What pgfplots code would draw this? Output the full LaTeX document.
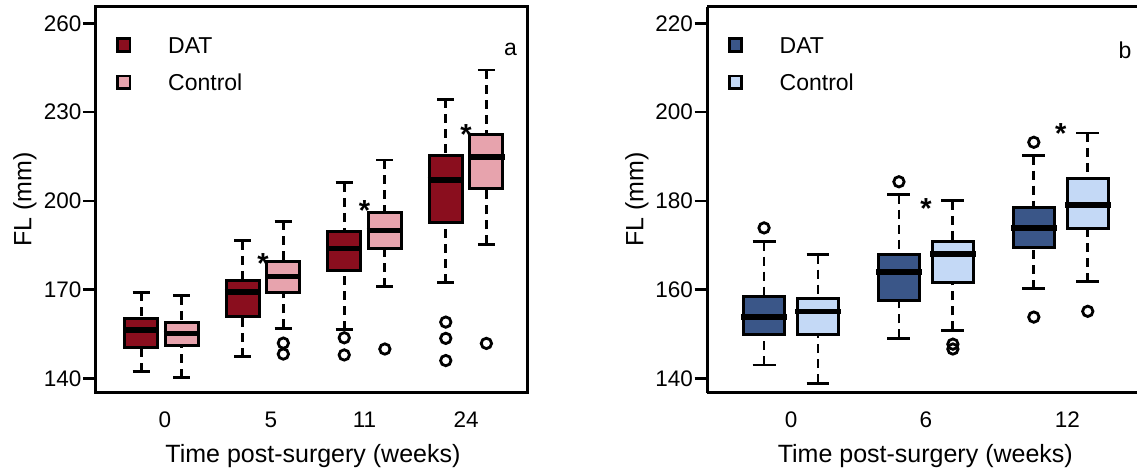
\documentclass[border=0pt]{standalone}
\usepackage{fontspec}
\setmainfont{Liberation Sans}
\usepackage{pgfplots}
\pgfplotsset{compat=1.18}
\usepgfplotslibrary{statistics}

\definecolor{datred}{HTML}{8A0E1E}
\definecolor{ctlpink}{HTML}{E7A3AD}
\definecolor{datblue}{HTML}{3A5688}
\definecolor{ctlblue}{HTML}{C4D9F6}

\tikzset{star/.style={font=\fontsize{29}{33}\selectfont\bfseries, yshift=-6.5pt, inner sep=0pt}}

\pgfplotsset{
  flaxis/.style={
    scale only axis,
    height=386pt,
    axis line style={line width=3pt},
    tick align=outside,
    ytick pos=left,
    major tick length=12.5pt,
    ytick style={line width=2.6pt, black},
    xtick style={draw=none},
    tick label style={font=\fontsize{22.5}{27}\selectfont},
    /pgf/number format/assume math mode=true,
    label style={font=\fontsize{25}{29}\selectfont},
    yticklabel style={xshift=2pt},
    xticklabel style={yshift=-3.4pt},
    ylabel={FL (mm)},
    xlabel={Time post-surgery (weeks)},
    clip=false,
    legend cell align=left,
    legend style={at={(axis description cs:0,1)}, anchor=north west,
      xshift=20.7pt, yshift=-30.5pt, draw=none, fill=none, inner sep=0pt,
      row sep=21pt, nodes={inner sep=0pt, text depth=0pt},
      font=\fontsize{23}{27}\selectfont},
    legend image code/.code={
      \draw[##1, line width=2.8pt] (0pt,-6.3pt) rectangle (12.2pt,6.3pt);
      \path[draw=none, fill=none] (0pt,0pt) -- (50.4pt,0pt);
    },
    boxplot/draw direction=y,
    boxplot/whisker extend=0.17,
    boxplot/draw/median/.code={
      \draw[black, line width=5.5pt]
        (boxplot box cs:\pgfplotsboxplotvalue{median},-0.05) --
        (boxplot box cs:\pgfplotsboxplotvalue{median},1.05);
    },
    boxplot/draw/lower whisker/.code={
      \draw[black, line width=2.8pt, dash pattern=on 9pt off 6pt]
        (boxplot cs:\pgfplotsboxplotvalue{lower whisker}) --
        (boxplot cs:\pgfplotsboxplotvalue{lower quartile});
      \draw[black, line width=2.8pt]
        (boxplot whisker cs:\pgfplotsboxplotvalue{lower whisker},0) --
        (boxplot whisker cs:\pgfplotsboxplotvalue{lower whisker},1);
    },
    boxplot/draw/upper whisker/.code={
      \draw[black, line width=2.8pt, dash pattern=on 9pt off 6pt]
        (boxplot cs:\pgfplotsboxplotvalue{upper whisker}) --
        (boxplot cs:\pgfplotsboxplotvalue{upper quartile});
      \draw[black, line width=2.8pt]
        (boxplot whisker cs:\pgfplotsboxplotvalue{upper whisker},0) --
        (boxplot whisker cs:\pgfplotsboxplotvalue{upper whisker},1);
    },
  },
  bx/.style={
    boxplot/every box/.style={fill=#1, draw=black, line width=3pt},
    mark=o, mark size=5.2pt,
    mark options={black, solid, line width=2.8pt},
  },
}

\begin{document}
\begin{tikzpicture}
\useasboundingbox (0pt,0pt) rectangle (1137pt,-469pt);

% panel a
\begin{axis}[flaxis,
  at={(95.5pt,-392.5pt)}, anchor=south west,
  width=431.5pt,
  xmin=-0.65, xmax=3.60, ymin=135.2, ymax=265.7,
  ytick={140,170,200,230,260},
  xtick={0.034,1.077,2.0,3.0}, xticklabels={0,5,11,24},
  boxplot/box extend=0.325,
  ylabel style={at={(axis description cs:-0.1634,0.5)}, anchor=center},
  xlabel style={at={(axis description cs:0.504,0)}, anchor=north, yshift=-48.8pt},
]
\addlegendimage{fill=datred, draw=black}
\addlegendentry{DAT}
\addlegendimage{fill=ctlpink, draw=black}
\addlegendentry{Control}

% week 0
\addplot[bx=datred, boxplot prepared={draw position=-0.2,
  lower whisker=142.3, lower quartile=150.4, median=156.3,
  upper quartile=160.1, upper whisker=169.1}] coordinates {};
\addplot[bx=ctlpink, boxplot prepared={draw position=0.2,
  lower whisker=140.2, lower quartile=151.2, median=155.2,
  upper quartile=159.0, upper whisker=167.9}] coordinates {};
% week 5
\addplot[bx=datred, boxplot prepared={draw position=0.8,
  lower whisker=147.3, lower quartile=160.8, median=169.2,
  upper quartile=173.2, upper whisker=186.5}] coordinates {};
\addplot[bx=ctlpink, boxplot prepared={draw position=1.2,
  lower whisker=156.9, lower quartile=169.0, median=174.4,
  upper quartile=179.4, upper whisker=193.1}] coordinates {(0,151.9) (0,148.2)};
% week 11
\addplot[bx=datred, boxplot prepared={draw position=1.8,
  lower whisker=156.5, lower quartile=176.3, median=183.9,
  upper quartile=189.8, upper whisker=206.1}] coordinates {(0,153.7) (0,147.9)};
\addplot[bx=ctlpink, boxplot prepared={draw position=2.2,
  lower whisker=171.0, lower quartile=183.9, median=189.9,
  upper quartile=196.1, upper whisker=213.8}] coordinates {(0,149.9)};
% week 24
\addplot[bx=datred, boxplot prepared={draw position=2.8,
  lower whisker=172.3, lower quartile=192.7, median=207.0,
  upper quartile=215.3, upper whisker=234.3}] coordinates {(0,159.0) (0,153.5) (0,146.0)};
\addplot[bx=ctlpink, boxplot prepared={draw position=3.2,
  lower whisker=185.3, lower quartile=204.2, median=214.8,
  upper quartile=222.5, upper whisker=244.2}] coordinates {(0,151.8)};

\node[star] at (axis cs:1,181.1) {*};
\node[star] at (axis cs:2,198.9) {*};
\node[star] at (axis cs:3,224.7) {*};
\node[font=\fontsize{23}{27}\selectfont] at (axis description cs:0.962,0.889) {a};
\end{axis}

% panel b
\begin{axis}[flaxis,
  at={(707pt,-392.5pt)}, anchor=south west,
  width=430pt,
  axis y line*=left, axis x line*=box,
  xmin=-0.623, xmax=2.565, ymin=136.8, ymax=223.8,
  ytick={140,160,180,200,220},
  xtick={0,1,2.048}, xticklabels={0,6,12},
  boxplot/box extend=0.308,
  ylabel style={at={(axis description cs:-0.1628,0.5)}, anchor=center},
  xlabel style={at={(axis description cs:0.5077,0)}, anchor=north, yshift=-48.8pt},
]
\addlegendimage{fill=datblue, draw=black}
\addlegendentry{DAT}
\addlegendimage{fill=ctlblue, draw=black}
\addlegendentry{Control}

% week 0
\addplot[bx=datblue, boxplot prepared={draw position=-0.2,
  lower whisker=143.0, lower quartile=149.9, median=153.8,
  upper quartile=158.5, upper whisker=170.8}] coordinates {(0,173.9)};
\addplot[bx=ctlblue, boxplot prepared={draw position=0.2,
  lower whisker=138.9, lower quartile=149.9, median=155.1,
  upper quartile=158.1, upper whisker=167.9}] coordinates {};
% week 6
\addplot[bx=datblue, boxplot prepared={draw position=0.8,
  lower whisker=149.0, lower quartile=157.6, median=164.0,
  upper quartile=167.9, upper whisker=181.4}] coordinates {(0,184.3)};
\addplot[bx=ctlblue, boxplot prepared={draw position=1.2,
  lower whisker=150.8, lower quartile=161.7, median=168.0,
  upper quartile=170.9, upper whisker=180.0}] coordinates {(0,147.7) (0,146.6)};
% week 12
\addplot[bx=datblue, boxplot prepared={draw position=1.8,
  lower whisker=160.2, lower quartile=169.4, median=173.9,
  upper quartile=178.6, upper whisker=190.2}] coordinates {(0,193.2) (0,153.8)};
\addplot[bx=ctlblue, boxplot prepared={draw position=2.2,
  lower whisker=161.8, lower quartile=173.8, median=179.1,
  upper quartile=185.0, upper whisker=195.3}] coordinates {(0,155.1)};

\node[star] at (axis cs:1,179.8) {*};
\node[star] at (axis cs:2,196.7) {*};
\node[font=\fontsize{23}{27}\selectfont] at (axis description cs:0.972,0.887) {b};
\end{axis}
\end{tikzpicture}
\end{document}
